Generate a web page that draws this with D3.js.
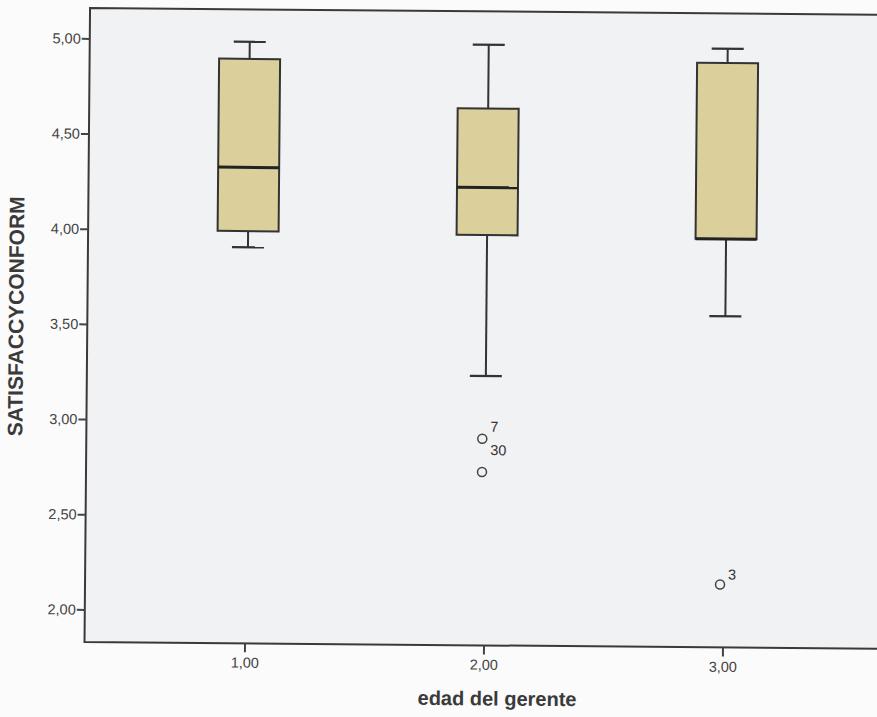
<!DOCTYPE html>
<html><head><meta charset="utf-8">
<script src="https://cdn.jsdelivr.net/npm/d3@7"></script>
<style>
html,body{margin:0;padding:0;background:#fbfbfb;}
svg{display:block;}
text{font-family:"Liberation Sans",Arial,sans-serif;}
</style></head>
<body>
<svg id="chart" width="877" height="717"></svg>
<script>
// Data
const categories = ["1,00", "2,00", "3,00"];
const catValues = [1, 2, 3];
const whiskerLow  = [3.91, 3.245, 3.57];
const q1          = [3.995, 3.985, 3.975];
const median      = [4.33, 4.235, 3.975];
const q3          = [4.90, 4.65, 4.90];
const whiskerHigh = [4.99, 4.985, 4.975];
const outlierCat   = [2, 2, 3];
const outlierValue = [2.915, 2.74, 2.16];
const outlierLabel = ["7", "30", "3"];
const yTicks = [2.0, 2.5, 3.0, 3.5, 4.0, 4.5, 5.0];
const yTitle = "SATISFACCYCONFORM";
const xTitle = "edad del gerente";

(function () {
const svg = d3.select("#chart");
const W = 877, H = 717;
const g = svg.append("g").attr("transform", `rotate(0.5 ${W/2} ${H/2})`);

const pLeft = 87, pTop = 11, pBottom = 645, pRight = 1010;
const y = d3.scaleLinear().domain([2, 5]).range([612.5, 41.5]);
const x = d3.scaleLinear().domain([1, 3]).range([247, 725]);
const fmt = v => d3.format(".2f")(v).replace(".", ",");

// plot background
g.append("rect").attr("x", pLeft).attr("y", pTop).attr("width", pRight - pLeft).attr("height", pBottom - pTop)
  .attr("fill", "#f1f2f4");

// Boxes
const boxW = 61, capW = 32;
const col = "#333333";
catValues.forEach((c, i) => {
  const cx = x(c);
  g.append("line").attr("x1", cx).attr("x2", cx).attr("y1", y(whiskerHigh[i])).attr("y2", y(q3[i]))
    .attr("stroke", col).attr("stroke-width", 2);
  g.append("line").attr("x1", cx).attr("x2", cx).attr("y1", y(q1[i])).attr("y2", y(whiskerLow[i]))
    .attr("stroke", col).attr("stroke-width", 2);
  g.append("line").attr("x1", cx - capW/2).attr("x2", cx + capW/2).attr("y1", y(whiskerHigh[i])).attr("y2", y(whiskerHigh[i]))
    .attr("stroke", col).attr("stroke-width", 2.2);
  g.append("line").attr("x1", cx - capW/2).attr("x2", cx + capW/2).attr("y1", y(whiskerLow[i])).attr("y2", y(whiskerLow[i]))
    .attr("stroke", col).attr("stroke-width", 2.2);
  g.append("rect").attr("x", cx - boxW/2).attr("width", boxW)
    .attr("y", y(q3[i])).attr("height", y(q1[i]) - y(q3[i]))
    .attr("fill", "#dbcf9c").attr("stroke", col).attr("stroke-width", 2);
  g.append("line").attr("x1", cx - boxW/2).attr("x2", cx + boxW/2).attr("y1", y(median[i])).attr("y2", y(median[i]))
    .attr("stroke", "#222").attr("stroke-width", 3);
});

// Outliers
const labelDy = [-7, -17, -5];
outlierCat.forEach((c, i) => {
  const cx = x(c) - 3, cy = y(outlierValue[i]);
  g.append("circle").attr("cx", cx).attr("cy", cy).attr("r", 4.5)
    .attr("fill", "none").attr("stroke", "#444").attr("stroke-width", 1.5);
  g.append("text").attr("x", cx + 8).attr("y", cy + labelDy[i]).attr("font-size", 14.5).attr("fill", "#333")
    .text(outlierLabel[i]);
});

// frame
g.append("path").attr("d", `M${pRight},${pTop}H${pLeft}V${pBottom}H${pRight}`)
  .attr("fill", "none").attr("stroke", "#3a3a3a").attr("stroke-width", 2);

// Y axis
const yAxis = g.append("g").attr("transform", `translate(${pLeft},0)`)
  .call(d3.axisLeft(y).tickValues(yTicks).tickFormat(fmt).tickSize(8).tickPadding(1));
yAxis.select(".domain").remove();
yAxis.selectAll(".tick line").attr("stroke", "#444").attr("stroke-width", 2);
yAxis.selectAll(".tick text").attr("font-size", 14.5).attr("fill", "#444").attr("font-family", "Liberation Sans, Arial, sans-serif");

// X axis
const xAxis = g.append("g").attr("transform", `translate(0,${pBottom})`)
  .call(d3.axisBottom(x).tickValues(catValues).tickFormat((d, i) => categories[i]).tickSize(9).tickPadding(5));
xAxis.select(".domain").remove();
xAxis.selectAll(".tick line").attr("stroke", "#444").attr("stroke-width", 2);
xAxis.selectAll(".tick text").attr("font-size", 14.5).attr("fill", "#444").attr("font-family", "Liberation Sans, Arial, sans-serif");

// Titles
g.append("text").attr("x", 500).attr("y", 705).attr("text-anchor", "middle")
  .attr("font-size", 20).attr("font-weight", "bold").attr("fill", "#3a3a3a").text(xTitle);
g.append("text").attr("transform", `translate(23,320) rotate(-90)`).attr("text-anchor", "middle")
  .attr("font-size", 21).attr("font-weight", "bold").attr("fill", "#3a3a3a").text(yTitle);
})();
</script>
</body></html>
